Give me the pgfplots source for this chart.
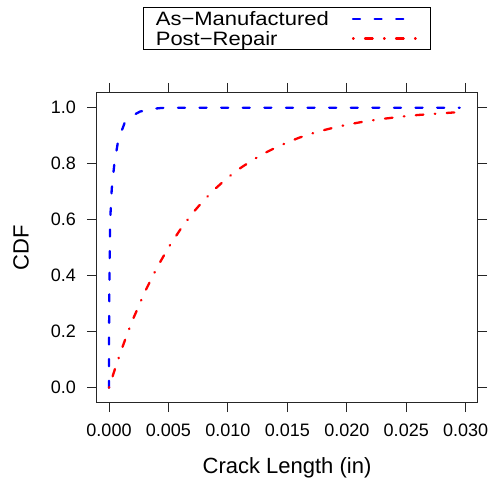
\documentclass[border=0pt]{standalone}
\usepackage{fontspec}
\setmainfont{Liberation Sans}
\usepackage{graphicx}
\usepackage{pgfplots}
\pgfplotsset{compat=1.18}
\begin{document}
\begin{tikzpicture}
\begin{axis}[
  scale only axis, width=380bp, height=309bp,
  xmin=-0.00101, xmax=0.03095, ymin=-0.051, ymax=1.0525,
  axis line style={line width=1bp, black!85},
  xtick={0,0.005,0.010,0.015,0.020,0.025,0.030},
  ytick={0,0.2,0.4,0.6,0.8,1.0},
  scaled x ticks=false,
  tick align=outside,
  major tick length=10bp,
  tick style={line width=1bp, black!85},
  xticklabel style={/pgf/number format/fixed, /pgf/number format/fixed zerofill, /pgf/number format/precision=3, /pgf/number format/assume math mode=true, inner sep=0pt, anchor=base, yshift=-24bp},
  yticklabel style={/pgf/number format/fixed, /pgf/number format/fixed zerofill, /pgf/number format/precision=1, /pgf/number format/assume math mode=true, inner sep=0pt, anchor=east, xshift=-11bp},
  tick label style={font=\fontsize{18bp}{18bp}\selectfont},
  label style={font=\fontsize{22bp}{22bp}\selectfont},
  xlabel={Crack Length (in)},
  ylabel={CDF},
  xlabel style={at={(axis description cs:0.5,-0.22977)}, anchor=base, inner sep=0pt},
  ylabel style={at={(axis description cs:-0.2,0.5)}, anchor=center, inner sep=0pt},
  legend style={at={(axis description cs:0.5,1)}, anchor=south, yshift=42.5bp, draw=black, line width=1bp, fill=white,
    font=\fontsize{22bp}{22bp}\selectfont, inner xsep=12bp, inner ysep=1.5bp, column sep=23bp, row sep=0pt,
    nodes={inner sep=0pt, text height=16.5bp, text depth=3.2bp}},
  legend cell align=left,
  legend plot pos=right,
  legend image code/.code={\draw[#1] (0bp,0bp) -- (64bp,0bp);},
]
\addplot[blue, line width=2.3bp, line cap=round, dash pattern=on 7bp off 14.6bp] coordinates {
(0,0) (0.00000,0.10) (0.00001,0.23) (0.00003,0.35) (0.00006,0.47) (0.00009,0.59)
(0.00023,0.71) (0.00045,0.80) (0.00078,0.885) (0.0013,0.944) (0.0019,0.970)
(0.0026,0.986) (0.0035,0.995) (0.0044,0.999) (0.006,1.0) (0.010,1.0) (0.0295,1.0)
};
\addlegendentry{\scalebox{1}[0.88]{As−Manufactured}}
\addplot[red, line width=2.3bp, line cap=round, dash pattern=on 0.6bp off 11.4bp on 7.6bp off 11.4bp] coordinates {
(0,0) (0.0005,0.067) (0.001,0.130) (0.0015,0.188) (0.002,0.243) (0.003,0.341) (0.004,0.426)
(0.005,0.501) (0.006,0.565) (0.007,0.622) (0.008,0.671) (0.009,0.713)
(0.010,0.751) (0.011,0.783) (0.012,0.811) (0.013,0.836) (0.014,0.857)
(0.015,0.876) (0.016,0.893) (0.017,0.907) (0.018,0.919) (0.019,0.930)
(0.020,0.939) (0.021,0.947) (0.022,0.954) (0.023,0.960) (0.024,0.965)
(0.025,0.970) (0.026,0.974) (0.027,0.977) (0.028,0.980) (0.029,0.983) (0.0295,0.984)
};
\addlegendentry{\scalebox{1}[0.88]{Post−Repair}}
\end{axis}
\pgfresetboundingbox
\path[use as bounding box] (-97bp,-82bp) rectangle (392bp,402bp);
\end{tikzpicture}
\end{document}
